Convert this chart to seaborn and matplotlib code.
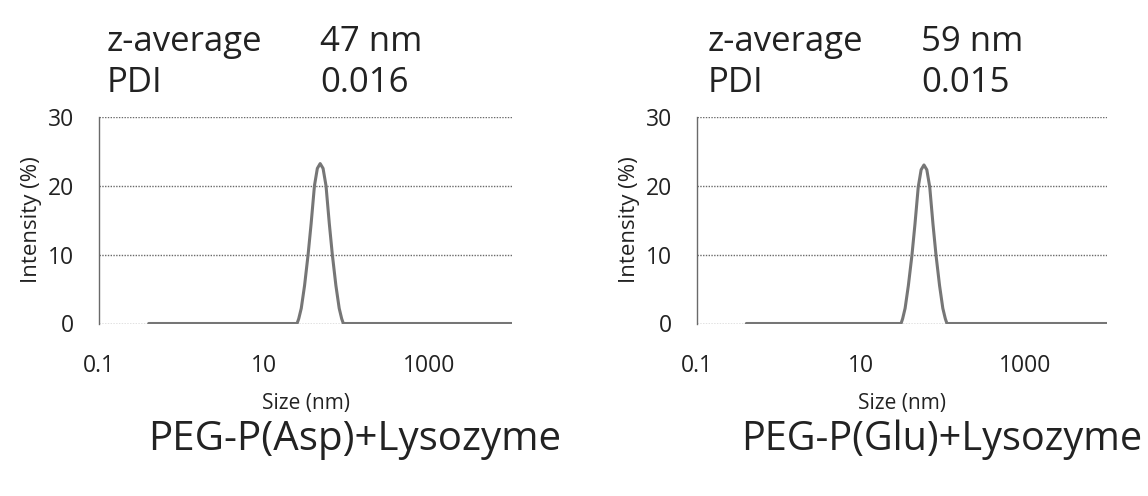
import matplotlib
matplotlib.use("Agg")
import matplotlib.pyplot as plt
import seaborn as sns
import pandas as pd
from matplotlib.ticker import FixedLocator, FixedFormatter, NullLocator

sns.set_style("white")
plt.rcParams['font.family'] = ['Open Sans', 'DejaVu Sans']

# ---- data ----
asp_size = [0.4, 25.0, 26.2, 28.1, 30.8, 34.0, 37.0, 40.6, 44.0, 47.6, 51.6,
            56.0, 61.4, 66.8, 73.8, 80.9, 86.7, 90.8, 10000]
asp_intensity = [0, 0, 0.7, 2.2, 5.5, 10.0, 14.5, 20.0, 22.5, 23.2, 22.5,
                 20.0, 14.5, 10.0, 5.5, 2.2, 0.7, 0, 0]

glu_size = [0.4, 30.8, 32.2, 34.5, 37.8, 41.8, 45.5, 49.9, 54.1, 58.6, 63.5,
            68.9, 75.5, 82.2, 90.8, 99.5, 106.7, 111.7, 10000]
glu_intensity = [0, 0, 0.7, 2.2, 5.5, 9.9, 14.4, 19.8, 22.3, 23.0, 22.3,
                 19.8, 14.4, 9.9, 5.5, 2.2, 0.7, 0, 0]

panel_titles = ["PEG-P(Asp)+Lysozyme", "PEG-P(Glu)+Lysozyme"]
z_average = ["47 nm", "59 nm"]
pdi = ["0.016", "0.015"]
x_ticks = [0.1, 10, 1000]
x_tick_labels = ["0.1", "10", "1000"]
y_ticks = [0, 10, 20, 30]

fig = plt.figure(figsize=(11.48, 4.96), dpi=100)
W, H = 1148, 496

def px_axes(x0, x1, y_top, y_bot):
    return fig.add_axes([x0 / W, 1 - y_bot / H, (x1 - x0) / W, (y_bot - y_top) / H])

axes = [px_axes(99, 512, 116.7, 323.5), px_axes(697, 1107, 116.7, 323.5)]
datasets = [(asp_size, asp_intensity), (glu_size, glu_intensity)]

dot = (0, (1, 1))
gcol = "#6a6a6a"
tcol = "#222222"

for i, ax in enumerate(axes):
    s, v = datasets[i]
    df = pd.DataFrame({"size": s, "intensity": v})
    sns.lineplot(data=df, x="size", y="intensity", ax=ax, color="#767676",
                 linewidth=2.2, zorder=3, sort=False)
    ax.set_xscale("log")
    ax.set_xlim(0.1, 10000)
    ax.set_ylim(0, 30)
    ax.xaxis.set_major_locator(FixedLocator(x_ticks))
    ax.xaxis.set_major_formatter(FixedFormatter(x_tick_labels))
    ax.xaxis.set_minor_locator(NullLocator())
    ax.yaxis.set_major_locator(FixedLocator(y_ticks))
    for sp in ["top", "right", "bottom"]:
        ax.spines[sp].set_visible(False)
    ax.spines["left"].set_linestyle(dot)
    ax.spines["left"].set_color(gcol)
    ax.spines["left"].set_linewidth(1.0)
    ax.grid(axis="y", linestyle=dot, color=gcol, linewidth=1.0, zorder=1)
    ax.grid(axis="x", visible=False)
    ax.tick_params(axis="both", direction="out", length=7, width=1.0,
                   color=gcol, labelsize=16.5, labelcolor=tcol)
    ax.tick_params(axis="y", pad=11)
    ax.tick_params(axis="x", pad=15)
    ax.set_xlabel("Size (nm)", fontsize=15, color=tcol, labelpad=11)
    ax.set_ylabel("Intensity (%)", fontsize=16, color=tcol, labelpad=4)

# header texts and bottom titles (pixel coordinates)
hdr = [(107, 320), (708, 921)]
for i in range(2):
    xa, xb = hdr[i]
    fig.text(xa / W, 1 - 42 / H, "z-average", fontsize=25, va="center", color=tcol)
    fig.text(xb / W, 1 - 42 / H, z_average[i], fontsize=25, va="center", color=tcol)
    fig.text(xa / W, 1 - 83 / H, "PDI", fontsize=25, va="center", color=tcol)
    fig.text(xb / W, 1 - 83 / H, pdi[i], fontsize=25, va="center", color=tcol)

fig.text(355 / W, 1 - 440 / H, panel_titles[0], fontsize=29, ha="center", va="center", color=tcol)
fig.text(1142 / W, 1 - 440 / H, panel_titles[1], fontsize=28.5, ha="right", va="center", color=tcol)

fig.savefig("out.png", dpi=100)
